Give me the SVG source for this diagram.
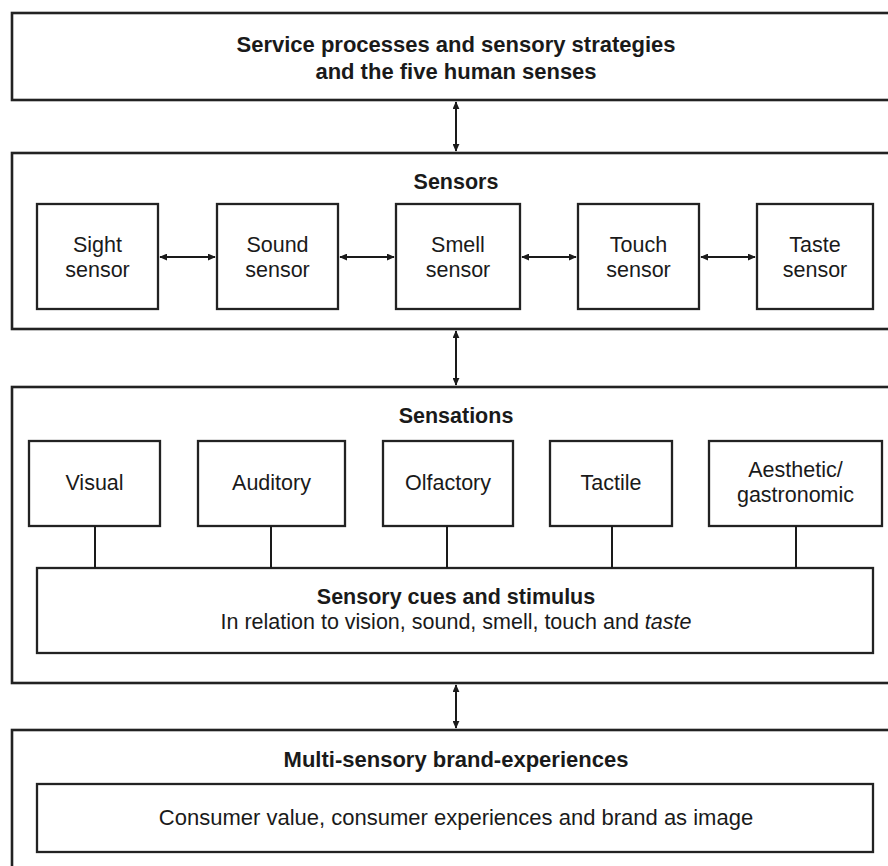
<svg xmlns="http://www.w3.org/2000/svg" width="888" height="866" viewBox="0 0 888 866">
<style>
.outer{fill:none;stroke:#222;stroke-width:2.6}
.box{fill:#fff;stroke:#222;stroke-width:2.3}
.t{font-family:"Liberation Sans",Arial,sans-serif;font-size:21.5px;fill:#1a1a1a;text-anchor:middle}
.b{font-weight:bold}
.l{font-size:22px}
.c{stroke:#1a1a1a;stroke-width:2;fill:none}
</style>
<defs>
<marker id="ah" viewBox="0 0 10 10" refX="9" refY="5" markerWidth="8" markerHeight="7" orient="auto-start-reverse" markerUnits="userSpaceOnUse" preserveAspectRatio="none">
<path d="M0,0 L10,5 L0,10 z" fill="#1a1a1a"/>
</marker>
</defs>
<rect width="888" height="866" fill="#fff"/>

<g id="top">
<rect class="outer" x="12" y="13" width="900" height="87"/>
<text class="t b l" x="456" y="52">Service processes and sensory strategies</text>
<text class="t b l" x="456" y="79">and the five human senses</text>
</g>

<g id="sensors">
<rect class="outer" x="12" y="153" width="900" height="176"/>
<text class="t b" x="456" y="189">Sensors</text>
</g>
<g id="sight"><rect class="box" x="37" y="204" width="121" height="105"/><text class="t" x="97.5" y="252">Sight</text><text class="t" x="97.5" y="277">sensor</text></g>
<g id="sound"><rect class="box" x="217" y="204" width="121" height="105"/><text class="t" x="277.5" y="252">Sound</text><text class="t" x="277.5" y="277">sensor</text></g>
<g id="smell"><rect class="box" x="396" y="204" width="124" height="105"/><text class="t" x="458" y="252">Smell</text><text class="t" x="458" y="277">sensor</text></g>
<g id="touch"><rect class="box" x="578" y="204" width="121" height="105"/><text class="t" x="638.5" y="252">Touch</text><text class="t" x="638.5" y="277">sensor</text></g>
<g id="taste"><rect class="box" x="757" y="204" width="116" height="105"/><text class="t" x="815" y="252">Taste</text><text class="t" x="815" y="277">sensor</text></g>

<g id="sensations">
<rect class="outer" x="12" y="387" width="900" height="296"/>
<text class="t b" x="456" y="423">Sensations</text>
</g>
<g id="visual"><rect class="box" x="29" y="441" width="131" height="85"/><text class="t" x="94.5" y="490">Visual</text></g>
<g id="auditory"><rect class="box" x="198" y="441" width="147" height="85"/><text class="t" x="271.5" y="490">Auditory</text></g>
<g id="olfactory"><rect class="box" x="383" y="441" width="130" height="85"/><text class="t" x="448" y="490">Olfactory</text></g>
<g id="tactile"><rect class="box" x="550" y="441" width="122" height="85"/><text class="t" x="611" y="490">Tactile</text></g>
<g id="aesthetic"><rect class="box" x="709" y="441" width="173" height="85"/><text class="t" x="795.5" y="477">Aesthetic/</text><text class="t" x="795.5" y="502">gastronomic</text></g>
<g id="cues"><rect class="box" x="37" y="568" width="836" height="85"/>
<text class="t b" x="456" y="604">Sensory cues and stimulus</text>
<text class="t" x="456" y="629">In relation to vision, sound, smell, touch and <tspan font-style="italic">taste</tspan></text>
</g>

<g id="brand">
<rect class="outer" x="12" y="730" width="900" height="160"/>
<text class="t b l" x="456" y="767">Multi-sensory brand-experiences</text>
</g>
<g id="consumer"><rect class="box" x="37" y="784" width="836" height="68"/><text class="t l" x="456" y="825">Consumer value, consumer experiences and brand as image</text></g>

<g id="connectors">
<line class="c" x1="456" y1="102" x2="456" y2="151" marker-start="url(#ah)" marker-end="url(#ah)"/>
<line class="c" x1="456" y1="331" x2="456" y2="385" marker-start="url(#ah)" marker-end="url(#ah)"/>
<line class="c" x1="456" y1="685" x2="456" y2="728" marker-start="url(#ah)" marker-end="url(#ah)"/>
<line class="c" x1="160" y1="257" x2="215" y2="257" marker-start="url(#ah)" marker-end="url(#ah)"/>
<line class="c" x1="340" y1="257" x2="394" y2="257" marker-start="url(#ah)" marker-end="url(#ah)"/>
<line class="c" x1="522" y1="257" x2="576" y2="257" marker-start="url(#ah)" marker-end="url(#ah)"/>
<line class="c" x1="701" y1="257" x2="755" y2="257" marker-start="url(#ah)" marker-end="url(#ah)"/>
<line class="c" x1="95" y1="526" x2="95" y2="568"/>
<line class="c" x1="271" y1="526" x2="271" y2="568"/>
<line class="c" x1="447" y1="526" x2="447" y2="568"/>
<line class="c" x1="612" y1="526" x2="612" y2="568"/>
<line class="c" x1="796" y1="526" x2="796" y2="568"/>
</g>
</svg>
